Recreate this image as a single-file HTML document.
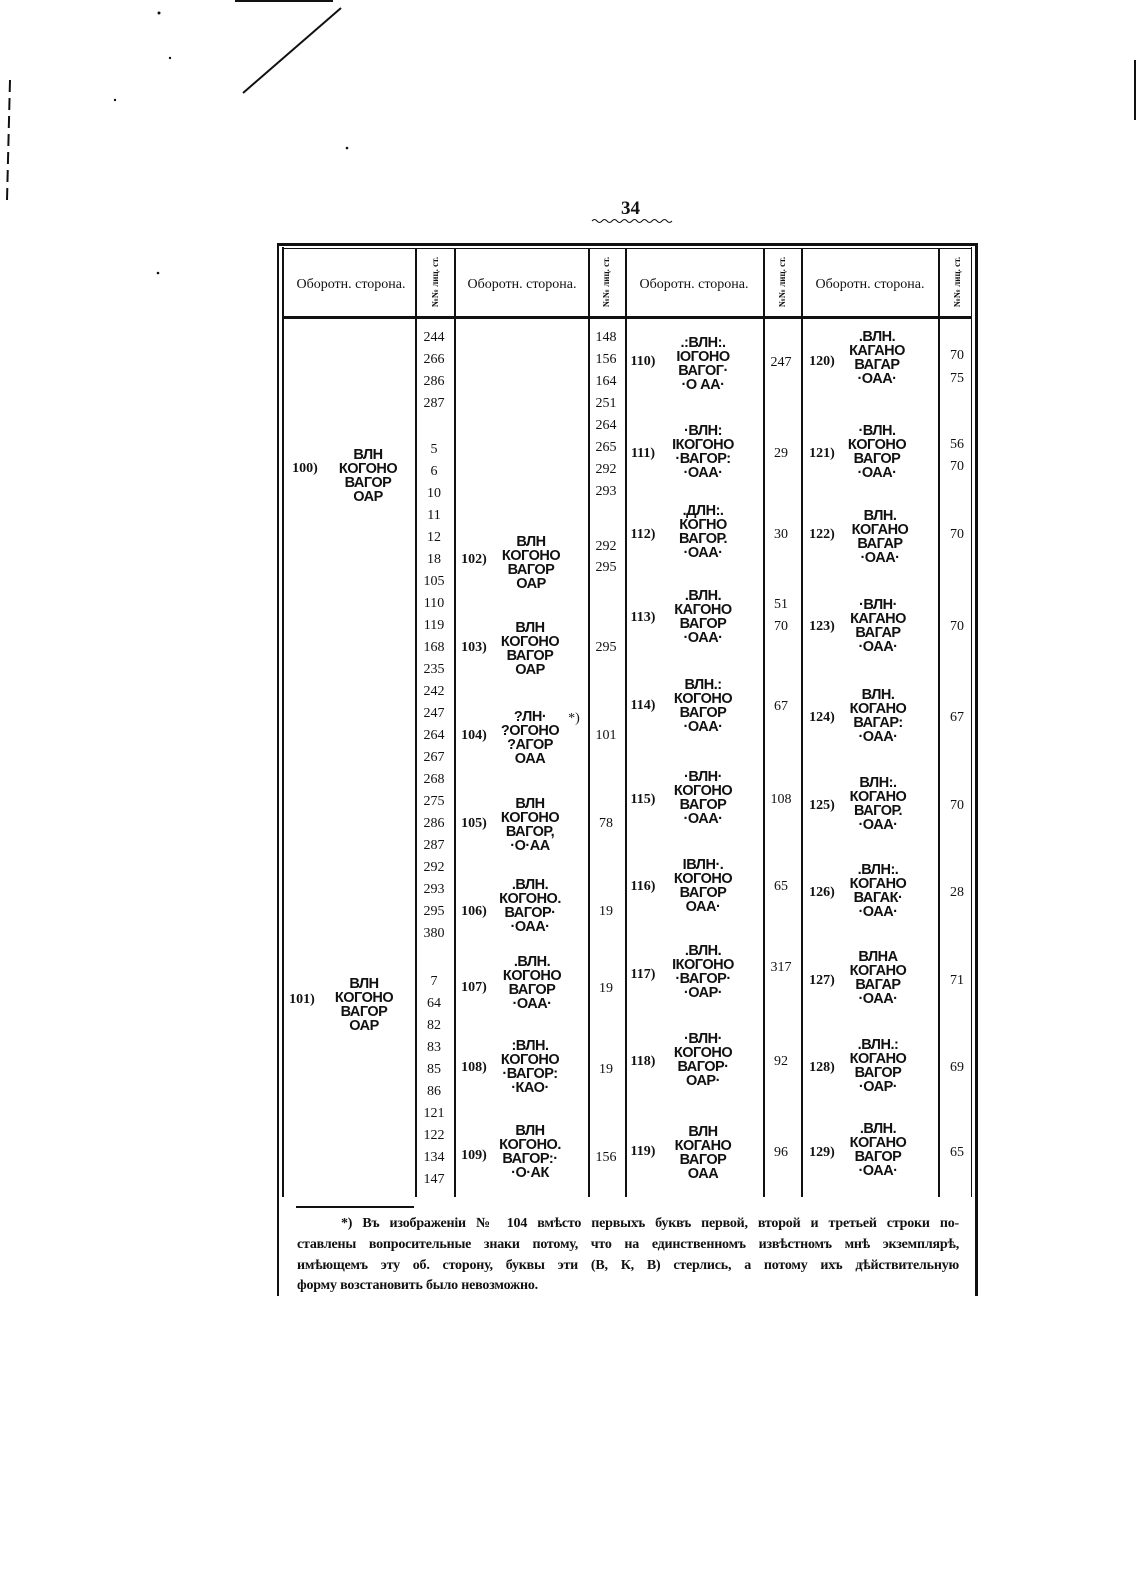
<!DOCTYPE html>
<html><head><meta charset="utf-8">
<style>
body{margin:0;width:1140px;height:1569px;background:#fff;position:relative;overflow:hidden;font-family:"Liberation Serif",serif;color:#111}
.a{position:absolute}
.n{position:absolute;font-size:14px;transform:translate(-50%,-50%);white-space:nowrap}
.l{position:absolute;font-size:14px;font-weight:bold;transform:translate(-50%,-50%);white-space:nowrap}
.g{position:absolute;font-family:"Liberation Sans",sans-serif;font-weight:bold;font-size:14.5px;line-height:14px;letter-spacing:-0.5px;text-align:center;transform:translate(-50%,-50%);white-space:nowrap}
.v{position:absolute;background:#111}
.h{position:absolute;font-size:14px;transform:translate(-50%,-50%);white-space:nowrap}
.r{position:absolute;font-size:9px;font-weight:bold;transform:translate(-50%,-50%) rotate(-90deg);white-space:nowrap}
.fl{position:absolute;left:297px;width:662px;font-size:14px;font-weight:bold;text-align:justify;text-align-last:justify;white-space:nowrap;letter-spacing:-0.2px}
</style></head><body>
<svg class="a" style="left:0;top:0" width="1140" height="320">
<line x1="235" y1="1" x2="333" y2="1" stroke="#111" stroke-width="2"/>
<line x1="341" y1="8" x2="243" y2="93" stroke="#111" stroke-width="2"/>
<line x1="10" y1="80" x2="7" y2="200" stroke="#111" stroke-width="2" stroke-dasharray="12 6"/>
<line x1="1135" y1="60" x2="1135" y2="120" stroke="#111" stroke-width="2"/>
<circle cx="159" cy="13" r="1.5" fill="#111"/><circle cx="170" cy="58" r="1.2" fill="#111"/><circle cx="115" cy="100" r="1.2" fill="#111"/><circle cx="347" cy="148" r="1.3" fill="#111"/><circle cx="158" cy="273" r="1.3" fill="#111"/>
<path d="M592 221 q2.5 -3 5 0 t5 0 t5 0 t5 0 t5 0 t5 0 t5 0 t5 0 t5 0 t5 0 t5 0 t5 0 t5 0 t5 0 t5 0 t5 0" fill="none" stroke="#111" stroke-width="1"/>
</svg>
<div class="a" style="left:621px;top:198px;font-size:19px;font-weight:bold">34</div>

<div class="v" style="left:277px;top:243px;width:2px;height:1053px"></div>
<div class="v" style="left:282px;top:247px;width:2px;height:950px"></div>
<div class="v" style="left:975px;top:243px;width:3px;height:1053px"></div>
<div class="v" style="left:971px;top:247px;width:1px;height:950px"></div>
<div class="v" style="left:277px;top:243px;width:701px;height:3px"></div>
<div class="v" style="left:282px;top:248px;width:690px;height:1px"></div>
<div class="v" style="left:282px;top:316px;width:690px;height:3px"></div>
<div class="v" style="left:415px;top:249px;width:1.5px;height:948px"></div>
<div class="v" style="left:454px;top:249px;width:2px;height:948px"></div>
<div class="v" style="left:588px;top:249px;width:1.5px;height:948px"></div>
<div class="v" style="left:625px;top:249px;width:2px;height:948px"></div>
<div class="v" style="left:763px;top:249px;width:1.5px;height:948px"></div>
<div class="v" style="left:801px;top:249px;width:2px;height:948px"></div>
<div class="v" style="left:938px;top:249px;width:1.5px;height:948px"></div>
<div class="v" style="left:296px;top:1206px;width:118px;height:2px"></div>

<div class="h" style="left:351px;top:285px">Оборотн. сторона.</div>
<div class="h" style="left:522px;top:285px">Оборотн. сторона.</div>
<div class="h" style="left:694px;top:285px">Оборотн. сторона.</div>
<div class="h" style="left:870px;top:285px">Оборотн. сторона.</div>
<div class="r" style="left:435px;top:282px">№№ лиц. ст.</div>
<div class="r" style="left:606px;top:282px">№№ лиц. ст.</div>
<div class="r" style="left:782px;top:282px">№№ лиц. ст.</div>
<div class="r" style="left:957px;top:282px">№№ лиц. ст.</div>

<div class="n" style="left:434px;top:338px">244</div><div class="n" style="left:434px;top:360px">266</div><div class="n" style="left:434px;top:382px">286</div><div class="n" style="left:434px;top:404px">287</div>
<div class="n" style="left:434px;top:450px">5</div><div class="n" style="left:434px;top:472px">6</div><div class="n" style="left:434px;top:494px">10</div><div class="n" style="left:434px;top:516px">11</div><div class="n" style="left:434px;top:538px">12</div><div class="n" style="left:434px;top:560px">18</div><div class="n" style="left:434px;top:582px">105</div><div class="n" style="left:434px;top:604px">110</div><div class="n" style="left:434px;top:626px">119</div><div class="n" style="left:434px;top:648px">168</div><div class="n" style="left:434px;top:670px">235</div><div class="n" style="left:434px;top:692px">242</div><div class="n" style="left:434px;top:714px">247</div><div class="n" style="left:434px;top:736px">264</div><div class="n" style="left:434px;top:758px">267</div><div class="n" style="left:434px;top:780px">268</div><div class="n" style="left:434px;top:802px">275</div><div class="n" style="left:434px;top:824px">286</div><div class="n" style="left:434px;top:846px">287</div><div class="n" style="left:434px;top:868px">292</div><div class="n" style="left:434px;top:890px">293</div><div class="n" style="left:434px;top:912px">295</div><div class="n" style="left:434px;top:934px">380</div>
<div class="n" style="left:434px;top:982px">7</div><div class="n" style="left:434px;top:1004px">64</div><div class="n" style="left:434px;top:1026px">82</div><div class="n" style="left:434px;top:1048px">83</div><div class="n" style="left:434px;top:1070px">85</div><div class="n" style="left:434px;top:1092px">86</div><div class="n" style="left:434px;top:1114px">121</div><div class="n" style="left:434px;top:1136px">122</div><div class="n" style="left:434px;top:1158px">134</div><div class="n" style="left:434px;top:1180px">147</div>

<div class="n" style="left:606px;top:338px">148</div><div class="n" style="left:606px;top:360px">156</div><div class="n" style="left:606px;top:382px">164</div><div class="n" style="left:606px;top:404px">251</div><div class="n" style="left:606px;top:426px">264</div><div class="n" style="left:606px;top:448px">265</div><div class="n" style="left:606px;top:470px">292</div><div class="n" style="left:606px;top:492px">293</div><div class="n" style="left:606px;top:547px">292</div><div class="n" style="left:606px;top:568px">295</div><div class="n" style="left:606px;top:648px">295</div><div class="n" style="left:606px;top:736px">101</div><div class="n" style="left:606px;top:824px">78</div><div class="n" style="left:606px;top:912px">19</div><div class="n" style="left:606px;top:989px">19</div><div class="n" style="left:606px;top:1070px">19</div><div class="n" style="left:606px;top:1158px">156</div>

<div class="n" style="left:781px;top:363px">247</div><div class="n" style="left:781px;top:454px">29</div><div class="n" style="left:781px;top:535px">30</div><div class="n" style="left:781px;top:605px">51</div><div class="n" style="left:781px;top:627px">70</div><div class="n" style="left:781px;top:707px">67</div><div class="n" style="left:781px;top:800px">108</div><div class="n" style="left:781px;top:887px">65</div><div class="n" style="left:781px;top:968px">317</div><div class="n" style="left:781px;top:1062px">92</div><div class="n" style="left:781px;top:1153px">96</div>

<div class="n" style="left:957px;top:356px">70</div><div class="n" style="left:957px;top:379px">75</div><div class="n" style="left:957px;top:445px">56</div><div class="n" style="left:957px;top:467px">70</div><div class="n" style="left:957px;top:535px">70</div><div class="n" style="left:957px;top:627px">70</div><div class="n" style="left:957px;top:718px">67</div><div class="n" style="left:957px;top:806px">70</div><div class="n" style="left:957px;top:893px">28</div><div class="n" style="left:957px;top:981px">71</div><div class="n" style="left:957px;top:1068px">69</div><div class="n" style="left:957px;top:1153px">65</div>

<div class="l" style="left:305px;top:469px">100)</div><div class="g" style="left:368px;top:476px">ВЛН<br>КОГОНО<br>ВАГОР<br>ОАР</div>
<div class="l" style="left:302px;top:1000px">101)</div><div class="g" style="left:364px;top:1005px">ВЛН<br>КОГОНО<br>ВАГОР<br>ОАР</div>
<div class="l" style="left:474px;top:560px">102)</div><div class="g" style="left:531px;top:563px">ВЛН<br>КОГОНО<br>ВАГОР<br>ОАР</div>
<div class="l" style="left:474px;top:648px">103)</div><div class="g" style="left:530px;top:649px">ВЛН<br>КОГОНО<br>ВАГОР<br>ОАР</div>
<div class="l" style="left:474px;top:736px">104)</div><div class="g" style="left:530px;top:738px">?ЛН·<br>?ОГОНО<br>?АГОР<br>ОАА</div><div class="n" style="left:574px;top:719px">*)</div>
<div class="l" style="left:474px;top:824px">105)</div><div class="g" style="left:530px;top:825px">ВЛН<br>КОГОНО<br>ВАГОР,<br>·О·АА</div>
<div class="l" style="left:474px;top:912px">106)</div><div class="g" style="left:530px;top:906px">.ВЛН.<br>КОГОНО.<br>ВАГОР·<br>·ОАА·</div>
<div class="l" style="left:474px;top:988px">107)</div><div class="g" style="left:532px;top:983px">.ВЛН.<br>КОГОНО<br>ВАГОР<br>·ОАА·</div>
<div class="l" style="left:474px;top:1068px">108)</div><div class="g" style="left:530px;top:1067px">:ВЛН.<br>КОГОНО<br>·ВАГОР:<br>·КАО·</div>
<div class="l" style="left:474px;top:1156px">109)</div><div class="g" style="left:530px;top:1152px">ВЛН<br>КОГОНО.<br>ВАГОР:·<br>·О·АК</div>
<div class="l" style="left:643px;top:362px">110)</div><div class="g" style="left:703px;top:364px">.:ВЛН:.<br>ІОГОНО<br>ВАГОГ·<br>·О АА·</div>
<div class="l" style="left:643px;top:454px">111)</div><div class="g" style="left:703px;top:452px">·ВЛН:<br>ІКОГОНО<br>·ВАГОР:<br>·ОАА·</div>
<div class="l" style="left:643px;top:535px">112)</div><div class="g" style="left:703px;top:532px">.ДЛН:.<br>КОГНО<br>ВАГОР.<br>·ОАА·</div>
<div class="l" style="left:643px;top:618px">113)</div><div class="g" style="left:703px;top:617px">.ВЛН.<br>КАГОНО<br>ВАГОР<br>·ОАА·</div>
<div class="l" style="left:643px;top:706px">114)</div><div class="g" style="left:703px;top:706px">ВЛН.:<br>КОГОНО<br>ВАГОР<br>·ОАА·</div>
<div class="l" style="left:643px;top:800px">115)</div><div class="g" style="left:703px;top:798px">·ВЛН·<br>КОГОНО<br>ВАГОР<br>·ОАА·</div>
<div class="l" style="left:643px;top:887px">116)</div><div class="g" style="left:703px;top:886px">ІВЛН·.<br>КОГОНО<br>ВАГОР<br>ОАА·</div>
<div class="l" style="left:643px;top:975px">117)</div><div class="g" style="left:703px;top:972px">.ВЛН.<br>ІКОГОНО<br>·ВАГОР·<br>·ОАР·</div>
<div class="l" style="left:643px;top:1062px">118)</div><div class="g" style="left:703px;top:1060px">·ВЛН·<br>КОГОНО<br>ВАГОР·<br>ОАР·</div>
<div class="l" style="left:643px;top:1152px">119)</div><div class="g" style="left:703px;top:1153px">ВЛН<br>КОГАНО<br>ВАГОР<br>ОАА</div>
<div class="l" style="left:822px;top:362px">120)</div><div class="g" style="left:877px;top:358px">.ВЛН.<br>КАГАНО<br>ВАГАР<br>·ОАА·</div>
<div class="l" style="left:822px;top:454px">121)</div><div class="g" style="left:877px;top:452px">·ВЛН.<br>КОГОНО<br>ВАГОР<br>·ОАА·</div>
<div class="l" style="left:822px;top:535px">122)</div><div class="g" style="left:880px;top:537px">ВЛН.<br>КОГАНО<br>ВАГАР<br>·ОАА·</div>
<div class="l" style="left:822px;top:627px">123)</div><div class="g" style="left:878px;top:626px">·ВЛН·<br>КАГАНО<br>ВАГАР<br>·ОАА·</div>
<div class="l" style="left:822px;top:718px">124)</div><div class="g" style="left:878px;top:716px">ВЛН.<br>КОГАНО<br>ВАГАР:<br>·ОАА·</div>
<div class="l" style="left:822px;top:806px">125)</div><div class="g" style="left:878px;top:804px">ВЛН:.<br>КОГАНО<br>ВАГОР.<br>·ОАА·</div>
<div class="l" style="left:822px;top:893px">126)</div><div class="g" style="left:878px;top:891px">.ВЛН:.<br>КОГАНО<br>ВАГАК·<br>·ОАА·</div>
<div class="l" style="left:822px;top:981px">127)</div><div class="g" style="left:878px;top:978px">ВЛНА<br>КОГАНО<br>ВАГАР<br>·ОАА·</div>
<div class="l" style="left:822px;top:1068px">128)</div><div class="g" style="left:878px;top:1066px">.ВЛН.:<br>КОГАНО<br>ВАГОР<br>·ОАР·</div>
<div class="l" style="left:822px;top:1153px">129)</div><div class="g" style="left:878px;top:1150px">.ВЛН.<br>КОГАНО<br>ВАГОР<br>·ОАА·</div>

<div class="fl" style="top:1216px;left:341px;width:618px">*) Въ изображеніи № 104 вмѣсто первыхъ буквъ первой, второй и третьей строки по-</div>
<div class="fl" style="top:1237px">ставлены вопросительные знаки потому, что на единственномъ извѣстномъ мнѣ экземплярѣ,</div>
<div class="fl" style="top:1258px">имѣющемъ эту об. сторону, буквы эти (В, К, В) стерлись, а потому ихъ дѣйствительную</div>
<div class="fl" style="top:1278px;text-align-last:left">форму возстановить было невозможно.</div>
</body></html>
